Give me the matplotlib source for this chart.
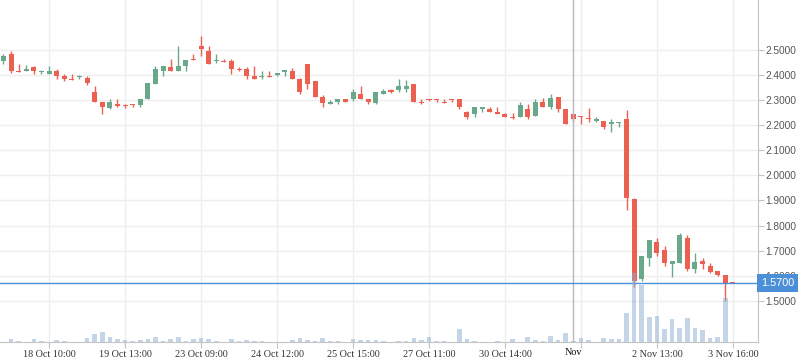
import matplotlib
matplotlib.use("Agg")
from matplotlib import pyplot as plt
from matplotlib import transforms

# candle data (one per bar, left to right)
opens = [2.457, 2.484, 2.416, 2.417, 2.432, 2.413, 2.405, 2.416, 2.396, 2.384,
         2.392, 2.388, 2.332, 2.292, 2.268, 2.284, 2.278, 2.284, 2.280, 2.306,
         2.365, 2.417, 2.432, 2.417, 2.437, 2.464, 2.516, 2.496, 2.457, 2.457,
         2.457, 2.425, 2.425, 2.396, 2.392, 2.397, 2.401, 2.411, 2.416, 2.385,
         2.444, 2.376, 2.313, 2.286, 2.292, 2.304, 2.304, 2.324, 2.304, 2.288,
         2.324, 2.340, 2.340, 2.344, 2.364, 2.292, 2.303, 2.303, 2.292, 2.303,
         2.304, 2.253, 2.246, 2.266, 2.265, 2.253, 2.246, 2.233, 2.234, 2.265,
         2.238, 2.292, 2.274, 2.312, 2.265, 2.245, 2.238, 2.229, 2.218, 2.218,
         2.206, 2.210, 2.225, 1.906, 1.586, 1.672, 1.735, 1.703, 1.648, 1.652,
         1.751, 1.628, 1.659, 1.639, 1.619, 1.603, 1.570]
highs = [2.484, 2.496, 2.444, 2.440, 2.435, 2.421, 2.435, 2.424, 2.404, 2.404,
         2.401, 2.395, 2.356, 2.292, 2.304, 2.304, 2.283, 2.284, 2.304, 2.368,
         2.436, 2.436, 2.464, 2.516, 2.458, 2.484, 2.555, 2.516, 2.484, 2.464,
         2.464, 2.432, 2.432, 2.436, 2.416, 2.416, 2.408, 2.421, 2.428, 2.389,
         2.444, 2.376, 2.320, 2.300, 2.304, 2.304, 2.344, 2.356, 2.304, 2.332,
         2.344, 2.344, 2.384, 2.380, 2.364, 2.304, 2.303, 2.303, 2.304, 2.303,
         2.304, 2.257, 2.272, 2.272, 2.272, 2.272, 2.249, 2.249, 2.292, 2.286,
         2.304, 2.308, 2.324, 2.312, 2.265, 2.245, 2.238, 2.269, 2.233, 2.218,
         2.225, 2.213, 2.261, 1.909, 1.679, 1.743, 1.751, 1.719, 1.659, 1.771,
         1.763, 1.691, 1.671, 1.651, 1.619, 1.603, 1.570]
lows = [2.445, 2.409, 2.413, 2.417, 2.405, 2.405, 2.405, 2.385, 2.377, 2.381,
        2.385, 2.361, 2.294, 2.245, 2.266, 2.272, 2.267, 2.272, 2.272, 2.306,
        2.365, 2.397, 2.417, 2.417, 2.417, 2.459, 2.477, 2.445, 2.448, 2.453,
        2.405, 2.417, 2.385, 2.385, 2.385, 2.393, 2.397, 2.397, 2.385, 2.325,
        2.345, 2.313, 2.272, 2.286, 2.286, 2.292, 2.295, 2.306, 2.284, 2.286,
        2.324, 2.329, 2.332, 2.332, 2.292, 2.284, 2.296, 2.292, 2.289, 2.293,
        2.266, 2.226, 2.234, 2.254, 2.254, 2.246, 2.234, 2.226, 2.234, 2.226,
        2.238, 2.274, 2.266, 2.254, 2.206, 2.214, 2.206, 2.214, 2.214, 2.186,
        2.174, 2.194, 1.862, 1.554, 1.580, 1.639, 1.680, 1.639, 1.595, 1.652,
        1.620, 1.612, 1.628, 1.612, 1.600, 1.499, 1.570]
closes = [2.476, 2.417, 2.413, 2.424, 2.417, 2.417, 2.416, 2.397, 2.384, 2.381,
          2.396, 2.369, 2.294, 2.272, 2.292, 2.278, 2.275, 2.280, 2.304, 2.368,
          2.423, 2.436, 2.417, 2.436, 2.458, 2.459, 2.505, 2.445, 2.461, 2.453,
          2.425, 2.421, 2.397, 2.385, 2.396, 2.393, 2.408, 2.421, 2.385, 2.333,
          2.365, 2.313, 2.290, 2.292, 2.304, 2.292, 2.332, 2.306, 2.294, 2.332,
          2.336, 2.332, 2.356, 2.356, 2.292, 2.288, 2.300, 2.300, 2.289, 2.300,
          2.274, 2.234, 2.272, 2.272, 2.254, 2.246, 2.234, 2.230, 2.282, 2.234,
          2.292, 2.274, 2.308, 2.266, 2.206, 2.226, 2.234, 2.225, 2.225, 2.194,
          2.214, 2.213, 1.911, 1.579, 1.679, 1.743, 1.692, 1.652, 1.659, 1.763,
          1.628, 1.655, 1.648, 1.616, 1.604, 1.570, 1.570]
volumes = [0.3, 3.3, 1.3, 0.3, 3.3, 0.7, 0.3, 2.3, 1.3, 0.3,
           0.3, 4.3, 8.3, 10.3, 5.3, 3.3, 2.3, 1.3, 2.3, 3.3,
           5.3, 1.3, 3.3, 5.3, 0.7, 3.3, 4.3, 3.3, 1.3, 0.3,
           3.3, 0.7, 2.3, 0.7, 1.3, 0.3, 0.3, 0.3, 2.3, 4.3,
           2.3, 1.3, 4.3, 1.3, 1.3, 0.3, 3.3, 2.3, 2.3, 2.3,
           0.7, 0.3, 1.3, 1.3, 4.3, 2.3, 5.3, 1.3, 1.3, 0.3,
           13.3, 3.3, 1.3, 0.3, 0.3, 1.3, 0.3, 3.3, 0.3, 5.3,
           2.3, 0.7, 6.3, 2.3, 9.3, 1.3, 4.3, 2.3, 0.3, 4.3,
           3.3, 3.3, 29.3, 69.0, 57.0, 25.3, 26.3, 13.3, 23.3, 14.3,
           24.3, 14.3, 12.3, 4.3, 5.3, 44.3, 0.0]

tick_pos = [6, 16, 26, 36, 46, 56, 66, 76, 86, 96]
tick_labels = ["18 Oct 10:00", "19 Oct 13:00", "23 Oct 09:00", "24 Oct 12:00",
               "25 Oct 15:00", "27 Oct 11:00", "30 Oct 14:00", "",
               "2 Nov 13:00", "3 Nov 16:00"]
price_ticks = [1.5, 1.6, 1.7, 1.8, 1.9, 2.0, 2.1, 2.2, 2.3, 2.4, 2.5]
cross_x = 75
cross_label = "Nov"
last_price = 1.57

green = '#6aa88b'
red = '#eb6050'
grid_c = '#eeeeee'
axis_c = '#c4c4c4'

fig = plt.figure(figsize=(7.98, 3.63), dpi=100)
ax = fig.add_axes([0, 21 / 363, 758 / 798, 342 / 363])
# volume on its own scale, drawn over the candles
vax = ax.twinx()

xs = list(range(len(opens)))
for i in xs:
    o, h, l, c = opens[i], highs[i], lows[i], closes[i]
    col = green if c > o else red
    ax.vlines(i, l, h, color=col, lw=1, zorder=3)
    ax.bar(i, max(abs(c - o), 0.004), bottom=min(o, c), width=0.66,
           color=col, lw=0, zorder=3)

ax.set_xlim(-0.46, 99.3)
ax.set_ylim(1.336, 2.699)

ax.set_xticks(tick_pos)
ax.set_xticklabels(tick_labels, family='Liberation Serif', fontsize=7.3, color='#333333')
ax.yaxis.tick_right()
ax.set_yticks(price_ticks)
ax.set_yticklabels([f"{p:.4f}" for p in price_ticks], family='Liberation Sans',
                   fontsize=7.3, color='#555555')
ax.tick_params(axis='x', length=4, color=axis_c, pad=2)
ax.tick_params(axis='y', length=4, color=axis_c, pad=1)
ax.grid(True, color=grid_c, lw=1, zorder=0)
ax.set_axisbelow(True)
for s in ('top', 'left'):
    ax.spines[s].set_visible(False)
for s in ('right', 'bottom'):
    ax.spines[s].set_color(axis_c)

vax.bar(xs, volumes, width=0.6, color='#8aadd0', alpha=0.5, lw=0, zorder=4)
vax.set_ylim(0, 342)
vax.set_yticks([])
for s in vax.spines.values():
    s.set_visible(False)

# crosshair
ax.axvline(cross_x, color='#b8b8b8', lw=1, zorder=5)
ax.axhline(last_price, color='#4a8fd8', lw=1, zorder=5)
trans = transforms.blended_transform_factory(ax.transAxes, ax.transData)
ax.text(1.004, last_price, f"{last_price:.4f}", transform=trans, ha='left', va='center',
        family='Liberation Sans', fontsize=7.8, color='white', zorder=6,
        bbox=dict(boxstyle='square,pad=0.35', fc='#4a8fd8', ec='none'))
xtrans = transforms.blended_transform_factory(ax.transData, ax.transAxes)
ax.text(cross_x, -0.018, cross_label, transform=xtrans, ha='center', va='top',
        family='Liberation Serif', fontsize=7.3, color='#111111')

fig.savefig("out.png", dpi=100)
